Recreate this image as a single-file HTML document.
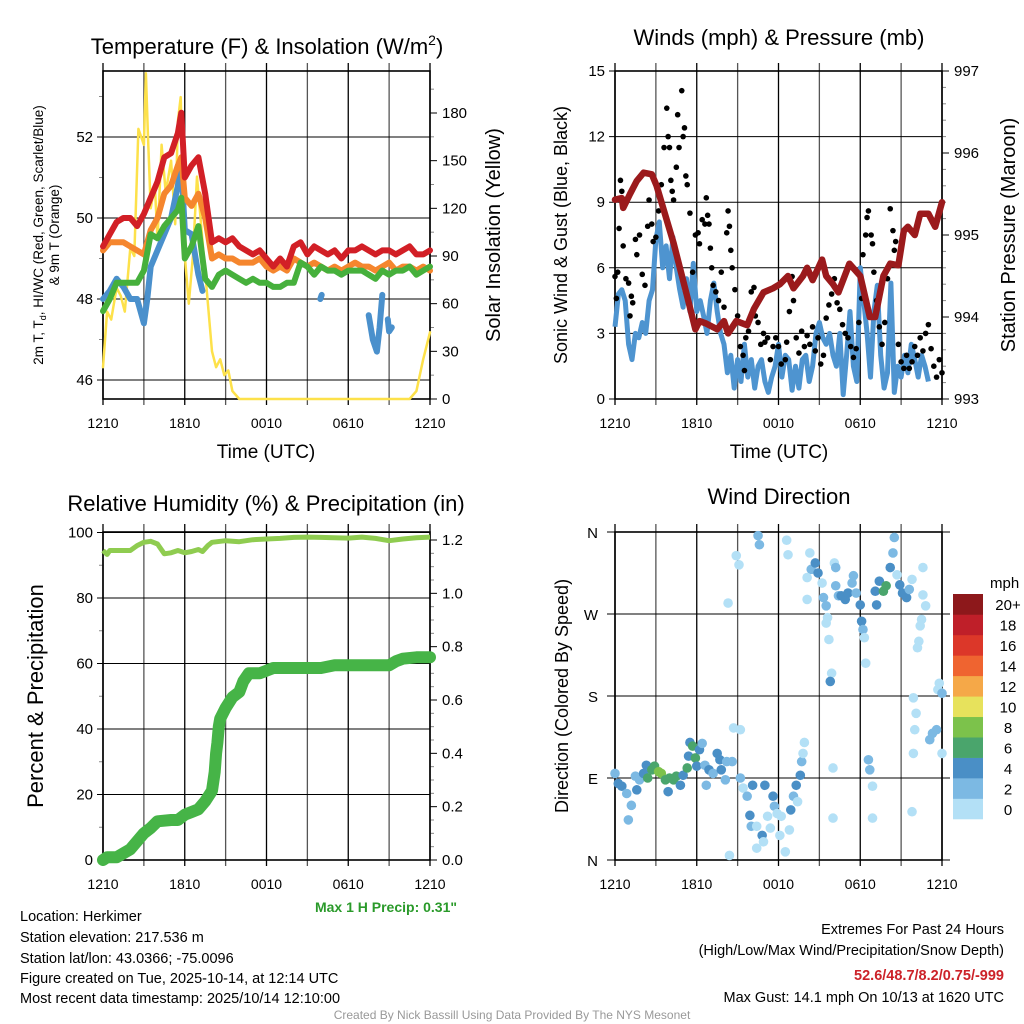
<!DOCTYPE html>
<html><head><meta charset="utf-8">
<style>
html,body{margin:0;padding:0;background:#fff;}
svg{display:block;font-family:"Liberation Sans",Arial,sans-serif;}
</style></head>
<body>
<svg id="fig" width="1024" height="1024" viewBox="0 0 1024 1024" xmlns="http://www.w3.org/2000/svg">
<rect width="1024" height="1024" fill="#fff"/>
<text x="267" y="54" font-size="22" text-anchor="middle">Temperature (F) &amp; Insolation (W/m<tspan dy="-9" font-size="14">2</tspan><tspan dy="9">)</tspan></text>
<text x="779" y="45" font-size="22" text-anchor="middle">Winds (mph) &amp; Pressure (mb)</text>
<text x="266" y="511" font-size="22" text-anchor="middle">Relative Humidity (%) &amp; Precipitation (in)</text>
<text x="779" y="504" font-size="22" text-anchor="middle">Wind Direction</text>

<text transform="translate(43,235) rotate(-90)" font-size="13.5" text-anchor="middle">2m T, T<tspan dy="3" font-size="9">d</tspan><tspan dy="-3">, HI/WC (Red, Green, Scarlet/Blue)</tspan></text>
<text transform="translate(59,235) rotate(-90)" font-size="13.5" text-anchor="middle">&amp; 9m T (Orange)</text>
<text transform="translate(500,235) rotate(-90)" font-size="20" text-anchor="middle">Solar Insolation (Yellow)</text>
<text transform="translate(567,235) rotate(-90)" font-size="18" text-anchor="middle">Sonic Wind &amp; Gust (Blue, Black)</text>
<text transform="translate(1015,235) rotate(-90)" font-size="20" text-anchor="middle">Station Pressure (Maroon)</text>
<text transform="translate(43,696) rotate(-90)" font-size="22" text-anchor="middle">Percent &amp; Precipitation</text>
<text transform="translate(568,696) rotate(-90)" font-size="18" text-anchor="middle">Direction (Colored By Speed)</text>
<text x="266" y="458" font-size="19" text-anchor="middle">Time (UTC)</text>
<text x="779" y="458" font-size="19" text-anchor="middle">Time (UTC)</text>

<text x="386" y="912" font-size="14" font-weight="bold" fill="#2a9a2a" text-anchor="middle">Max 1 H Precip: 0.31"</text>
<g font-size="14.5">
<text x="20" y="921">Location: Herkimer</text>
<text x="20" y="942">Station elevation: 217.536 m</text>
<text x="20" y="963">Station lat/lon: 43.0366; -75.0096</text>
<text x="20" y="983">Figure created on Tue, 2025-10-14, at 12:14 UTC</text>
<text x="20" y="1003">Most recent data timestamp: 2025/10/14 12:10:00</text>
</g>
<g font-size="14.5" text-anchor="end">
<text x="1004" y="934">Extremes For Past 24 Hours</text>
<text x="1004" y="955">(High/Low/Max Wind/Precipitation/Snow Depth)</text>
<text x="1004" y="980" fill="#cc2229" font-weight="bold">52.6/48.7/8.2/0.75/-999</text>
<text x="1004" y="1002">Max Gust: 14.1 mph On 10/13 at 1620 UTC</text>
</g>
<text x="512" y="1019" font-size="12" fill="#999" text-anchor="middle">Created By Nick Bassill Using Data Provided By The NYS Mesonet</text>
<g id="plots"></g>
</svg>
<script>
// ---------- data ----------
const timeLabels = ["1210","1810","0010","0610","1210"];
const tempHours = [0,0.5,1,1.5,2,2.5,3,3.5,4,4.5,5,5.5,5.75,6,6.5,7,7.5,8,8.5,9,9.5,10,10.5,11,11.5,12,12.5,13,13.5,14,14.5,15,15.5,16,16.5,17,17.5,18,18.5,19,19.5,20,20.5,21,21.5,22,22.5,23,23.5,24];
const tempRed = [49.3,49.6,49.9,50.0,50.0,49.8,50.1,50.5,50.9,51.5,51.6,52.1,52.6,51.0,51.3,51.5,50.6,49.4,49.5,49.4,49.5,49.3,49.2,49.1,49.2,49.0,48.8,49.0,48.8,49.3,49.4,49.1,49.3,49.2,49.1,49.2,49.0,49.2,49.2,49.3,49.2,49.1,49.2,49.2,49.1,49.2,49.3,49.1,49.1,49.2];
const temp9m = [49.2,49.4,49.4,49.4,49.3,49.2,49.1,49.7,50.0,50.6,50.8,51.3,51.5,50.5,50.3,50.6,50.0,49.0,49.1,49.0,49.0,48.9,48.9,48.9,49.0,48.8,48.7,48.8,48.7,49.0,48.9,48.8,48.9,48.8,48.7,48.8,48.7,48.8,48.9,48.8,48.8,48.7,48.8,48.9,48.7,48.8,48.8,48.7,48.8,48.7];
const tempGreen = [47.7,48.0,48.4,48.4,48.4,48.4,48.7,49.6,49.5,49.8,50.0,50.2,50.5,49.0,49.3,49.8,48.5,48.3,48.6,48.7,48.6,48.5,48.4,48.5,48.4,48.4,48.3,48.3,48.4,48.4,48.9,48.8,48.6,48.8,48.7,48.7,48.6,48.7,48.7,48.7,48.6,48.5,48.7,48.6,48.7,48.7,48.8,48.6,48.7,48.8];
const dewHours = [0,0.5,1,1.5,2,2.5,3,3.25,3.5,4,4.5,5,5.5,5.75,6,6.5,7,7.3,null,15.95,16.05,null,19.5,19.8,20.1,20.3,20.5,null,20.9,21.0,21.2];
const dewBlue = [48.0,48.2,48.5,48.3,48.0,48.0,47.4,48.0,48.8,49.2,49.6,50.0,50.8,51.3,49.7,49.6,48.6,48.2,null,48.0,48.1,null,47.6,47.0,46.7,47.3,48.1,null,47.5,47.2,47.3];
const solarHours = [0,0.3,0.6,1,1.3,1.6,2,2.3,2.6,3,3.15,3.3,3.5,3.8,4,4.3,4.6,5,5.3,5.5,5.7,6,6.3,6.6,6.9,7.1,7.4,7.7,8,8.3,8.6,8.9,9.2,9.5,10,11,13,15,17,19,21,22.5,23,23.5,24];
const solarVals = [20,55,50,70,65,55,95,90,170,160,205,165,120,135,100,160,130,150,110,175,190,90,60,90,140,120,90,60,30,20,25,15,18,5,0,0,0,0,0,0,0,0,5,25,42];

const windHours = [0,0.25,0.5,0.75,1,1.25,1.5,1.75,2,2.25,2.5,2.75,3,3.25,3.5,3.75,4,4.25,4.5,4.75,5,5.25,5.5,5.75,6,6.25,6.5,6.75,7,7.25,7.5,7.75,8,8.25,8.5,8.75,9,9.25,9.5,9.75,10,10.25,10.5,10.75,11,11.25,11.5,11.75,12,12.25,12.5,12.75,13,13.25,13.5,13.75,14,14.25,14.5,14.75,15,15.25,15.5,15.75,16,16.25,16.5,16.75,17,17.25,17.5,17.75,18,18.25,18.5,18.75,19,19.25,19.5,19.75,20,20.25,20.5,20.75,21,21.25,21.5,21.75,22,22.25,22.5,22.75,23,23.25,23.5,23.75,24];
const windBlue = [3.3,4.8,5.0,4.5,2.5,1.8,3.0,2.8,3.5,3.0,4.5,5.0,7.3,8.1,6.0,7.0,5.5,7.4,6.0,5.0,4.2,5.5,4.0,6.2,4.0,4.5,3.8,3.0,4.5,5.3,4.0,3.0,2.5,1.2,2.0,0.5,1.8,0.8,2.5,1.0,1.8,0.5,1.5,1.8,0.8,0.3,1.0,1.5,2.5,1.0,2.0,1.8,0.4,1.5,0.5,1.8,2.0,0.8,1.5,3.0,3.5,2.8,2.5,3.0,2.0,1.5,3.0,0.2,2.0,4.0,1.5,0.8,6.0,4.5,3.0,1.0,4.0,5.2,2.0,0.5,1.2,5.3,0.3,1.5,1.0,2.0,1.2,2.5,1.8,1.0,2.0,1.5,0.8];
const gustHours = [0,0.1,0.2,0.3,0.4,0.5,0.6,0.8,1.0,1.1,1.2,1.3,1.5,1.6,1.8,2.0,2.2,2.4,2.5,2.7,2.8,3.0,3.2,3.4,3.6,3.8,3.9,4.0,4.1,4.2,4.3,4.5,4.6,4.7,4.9,5.0,5.1,5.2,5.3,5.5,5.7,5.9,6.1,6.2,6.4,6.6,6.7,6.8,6.9,7.0,7.1,7.2,7.4,7.6,7.8,8.0,8.2,8.3,8.4,8.5,8.6,8.8,9.0,9.2,9.4,9.5,9.6,9.8,10.0,10.2,10.3,10.5,10.7,10.9,11.0,11.2,11.4,11.6,11.8,12.0,12.2,12.5,12.6,12.8,13.0,13.1,13.3,13.5,13.7,13.9,14.1,14.3,14.5,14.7,14.9,15.1,15.3,15.5,15.7,15.9,16.1,16.3,16.5,16.7,16.9,17.1,17.3,17.5,17.7,17.9,18.1,18.2,18.4,18.5,18.6,18.8,18.9,19.0,19.2,19.4,19.6,19.8,20.0,20.2,20.4,20.5,20.6,20.8,21.0,21.2,21.4,21.6,21.8,22.0,22.2,22.4,22.6,22.8,23.0,23.2,23.4,23.6,23.8,24.0];
const gustVals = [5.6,4.6,5.8,7.8,10.0,9.5,7.0,5.5,5.3,3.8,4.7,4.4,7.3,6.6,7.5,5.7,5.2,7.9,9.1,8.0,7.2,7.4,8.6,9.8,11.5,13.3,12.0,11.5,10.0,9.5,9.1,10.6,13.0,11.5,14.1,12.0,12.4,10.2,9.8,8.5,5.8,7.5,7.6,7.1,8.2,8.0,9.2,8.4,8.0,6.9,6.0,5.2,4.9,4.5,5.8,4.2,7.6,8.6,7.9,6.8,6.0,5.0,3.8,2.4,2.0,1.3,2.8,3.1,4.9,5.1,3.8,3.5,2.5,3.0,2.6,2.8,1.8,2.4,2.8,2.4,1.6,1.8,2.6,4.0,5.6,4.5,2.8,2.1,3.1,2.4,2.9,2.5,3.3,2.2,2.8,1.6,2.0,3.7,4.3,4.8,5.5,4.4,4.1,3.4,3.0,2.8,2.4,1.9,2.3,3.5,4.6,6.6,7.5,8.3,8.6,7.5,7.1,5.8,4.5,3.3,2.5,3.5,5.5,8.7,7.7,6.8,7.2,2.5,1.7,1.4,2.0,1.4,1.7,2.4,2.0,2.8,2.2,3.0,3.4,2.3,1.5,1.0,1.8,1.2];
const presHours = [0,0.5,0.6,1.1,1.6,2.1,2.7,3.05,4.3,5.3,5.9,6.2,6.7,7.5,8,8.3,8.9,9.7,10.2,10.9,11.6,12.1,12.7,13.1,13.8,14.1,14.5,15.2,15.5,16,16.4,17.2,18,18.7,19.1,19.7,20.2,20.8,21.2,21.5,22,22.4,23,23.5,24];
const presVals = [995.43,995.45,995.33,995.5,995.66,995.76,995.74,995.6,994.9,994.25,993.85,993.95,993.92,993.85,993.95,993.8,993.95,993.9,994.1,994.3,994.35,994.4,994.5,994.35,994.5,994.6,994.45,994.7,994.5,994.4,994.3,994.65,994.5,994.0,994.0,994.5,994.65,994.63,995.05,995.1,995.0,995.26,995.26,995.1,995.4];

const rhHours = [0,0.3,0.5,1,2,2.5,3,3.5,4,4.5,5,5.5,6,6.5,7,7.3,7.7,8,9,10,11,12,13,14,15,16,17,18,19,20,21,22,23,24];
const rhVals = [94.5,93.3,94.5,94.5,94.5,96,97,97.3,96.5,93.5,93.8,94.5,93.8,94.2,94.8,94.2,96,97,97.5,97.2,97.8,98,98.2,98.5,98.6,98.5,98.4,98.3,98.6,98.2,97.5,98,98.4,98.6];
const precipHours = [0,0.3,1,1.5,2,2.5,3,3.5,4,5,5.5,6,6.5,7,7.5,8,8.2,8.3,8.4,8.5,8.6,9,9.5,10,10.3,10.7,11,11.5,12,12.5,13,14,15,16,17,18,19,20,21,21.5,22,23,24];
const precipVals = [0,0.01,0.01,0.025,0.04,0.07,0.1,0.12,0.145,0.15,0.15,0.17,0.18,0.19,0.22,0.26,0.33,0.4,0.44,0.5,0.53,0.57,0.61,0.63,0.67,0.70,0.70,0.70,0.71,0.72,0.72,0.72,0.72,0.72,0.73,0.73,0.73,0.73,0.73,0.745,0.755,0.76,0.76];

const dirHours = [0,0.24,0.5,0.86,0.98,1.2,1.5,1.6,1.8,2.1,2.3,2.4,2.7,2.9,3.2,3.4,3.7,3.9,4.0,4.3,4.5,4.8,5.0,5.3,5.4,5.5,5.7,5.9,6.0,6.2,6.4,6.6,6.7,6.9,7.2,7.5,7.7,7.8,8.1,8.2,8.6,8.7,9.2,8.9,9.1,8.3,9.2,9.4,9.7,9.9,10.1,10.0,10.4,10.8,10.9,10.4,11.0,11.2,11.4,11.6,11.7,11.9,12.1,12.2,12.5,12.8,12.9,13.1,13.3,13.4,13.6,13.7,13.8,13.9,8.4,10.5,10.6,12.6,12.7,14.3,14.4,14.7,14.9,14.1,14.1,15.2,15.3,15.5,15.6,15.5,15.7,15.9,15.8,16.1,16.2,16.2,16.4,16.6,16.9,17.1,17.4,17.5,17.7,18.0,18.1,18.2,18.3,18.4,18.6,18.7,18.9,18.9,19.1,19.2,19.4,19.7,19.9,20.2,20.4,20.5,20.7,20.9,21.1,21.4,21.6,21.8,22.6,22.6,22.8,22.5,22.4,22.3,22.2,21.9,22.1,22.0,21.9,21.8,23.1,23.3,23.6,23.7,23.8,24,24,16.0,16.0];
const dirDeg = [95,84,81,73,44,60,92,77,88,95,104,90,99,103,97,95,88,75,90,88,92,82,93,101,114,129,125,112,103,121,128,104,82,99,95,117,110,99,88,108,108,145,143,334,324,282,90,79,70,49,82,37,37,27,20,13,82,48,35,70,59,51,27,48,9,33,55,70,82,64,93,108,117,129,5,356,346,351,335,337,319,326,315,310,286,304,288,279,266,260,242,205,196,326,321,301,290,290,286,293,304,312,293,280,262,253,244,216,110,99,81,46,295,280,306,295,301,321,337,354,313,302,293,288,297,308,321,291,279,264,257,240,233,178,161,143,117,53,132,139,143,187,194,183,117,101,46];
const dirSpeed = [2,4,4,2,2,2,2,4,2,4,4,6,6,6,8,8,6,4,6,6,6,4,4,6,4,4,6,6,4,4,2,2,2,4,2,4,4,4,2,2,2,0,0,0,0,0,2,0,2,4,4,2,0,4,0,0,4,0,0,4,2,0,0,0,0,0,4,2,4,0,4,2,0,0,0,2,2,0,0,0,2,4,4,0,0,0,2,2,0,0,0,0,4,0,2,2,2,4,4,4,2,2,2,4,4,2,0,0,2,2,0,0,4,4,4,6,6,4,2,2,0,4,4,4,2,0,0,0,0,0,0,0,0,0,0,0,0,0,2,2,2,0,0,2,0,0,0];
const speedBins = ["0","2","4","6","8","10","12","14","16","18","20+"];
const speedColors = ["#b3e0f6","#7cb9e3","#4a8fc6","#4aa56c","#7cc24b","#e7e25c","#f5a848","#ef6430","#dc3729","#bf1f29","#8d181b"];

// ---------- helpers ----------
const NS="http://www.w3.org/2000/svg";
const root=document.getElementById('plots');
function mk(tag,attrs,parent){const e=document.createElementNS(NS,tag);for(const k in attrs)e.setAttribute(k,attrs[k]);(parent||root).appendChild(e);return e;}
function lin(d0,d1,r0,r1){return v=>r0+(v-d0)*(r1-r0)/(d1-d0);}
function pathFrom(xs,ys,fx,fy){let d="",pen=false;for(let i=0;i<xs.length;i++){if(xs[i]===null||ys[i]===null){pen=false;continue;}d+=(pen?"L":"M")+fx(xs[i]).toFixed(1)+","+fy(ys[i]).toFixed(1);pen=true;}return d;}

function frame(name,x0,y0,x1,y1){
  const g=mk('g',{});
  
  
  const fx=lin(0,24,x0,x1);
  for(let h=0;h<=24;h+=3){
    const x=fx(h);
    const ln=mk('line',{x1:x,x2:x,y1:y0-8,y2:y1+6,stroke:(h%6==0)?'#000':'#555','stroke-width':1.3},g);
    
    
  }
  for(let i=0;i<timeLabels.length;i++){
    const t=mk('text',{x:fx(i*6),y:y1+29,'font-size':14,'text-anchor':'middle'},g);
    t.textContent=timeLabels[i];
    
    
  }
  return {g,fx};
}
function hgrid(g,y,x0,x1){mk('line',{x1:x0,x2:x1,y1:y,y2:y,stroke:'#000','stroke-width':1},g);}
function leftTicks(g,vals,fy,x0,x1,fs,fmt){for(const v of vals){const y=fy(v);hgrid(g,y,x0-6,x1);const t=mk('text',{x:x0-10,y:y+5,'font-size':fs,'text-anchor':'end'},g);t.textContent=fmt?fmt(v):v;}}
function rightTicks(g,vals,fy,x1,fs,fmt,minor){for(const v of vals){const y=fy(v);mk('line',{x1:x1,x2:x1+7,y1:y,y2:y,stroke:'#000'},g);const t=mk('text',{x:x1+12,y:y+5,'font-size':fs},g);t.textContent=fmt?fmt(v):v;}
 if(minor)for(const v of minor){const y=fy(v);mk('line',{x1:x1,x2:x1+4,y1:y,y2:y,stroke:'#888'},g);}}
function box(g,x0,y0,x1,y1){mk('rect',{x:x0,y:y0,width:x1-x0,height:y1-y0,fill:'none',stroke:'#000','stroke-width':1.6},g);}

// ---------- panel 1: temperature ----------
(function(){
 const X0=103,X1=430,Y0=71,Y1=399;
 const {g,fx}=frame('temp',X0,Y0,X1,Y1);
 const fy=lin(46,52,380,137), fs=lin(0,180,399,113);
 leftTicks(g,[46,48,50,52],fy,X0,X1,15);
 rightTicks(g,[0,30,60,90,120,150,180],fs,X1,15,null,[15,45,75,105,135,165,195]);
 for(const v of [47,49,51,53]) mk('line',{x1:X0-4,x2:X0,y1:fy(v),y2:fy(v),stroke:'#888'},g);
 const series=[[solarHours,solarVals,fs,'#fde14a',2.5,'solar-insolation-line'],[dewHours,dewBlue,fy,'#4a90cc',6,'dewpoint-line'],[tempHours,temp9m,fy,'#f5862e',6,'temp-9m-line'],[tempHours,tempGreen,fy,'#46b03c',6,'heat-index-line'],[tempHours,tempRed,fy,'#d21f26',6,'temp-2m-line']];
 for(const s of series){
   const p=mk('path',{d:pathFrom(s[0],s[1],fx,s[2]),fill:'none',stroke:s[3],'stroke-width':s[4],'stroke-linejoin':'round','stroke-linecap':'round'});
   
   
 }
 box(g,X0,Y0,X1,Y1);
})();

// ---------- panel 2: winds ----------
(function(){
 const X0=615,X1=942,Y0=71,Y1=399;
 const {g,fx}=frame('wind',X0,Y0,X1,Y1);
 const fy=lin(0,15,399,71), fp=lin(993,997,399,71);
 leftTicks(g,[0,3,6,9,12,15],fy,X0,X1,15);
 rightTicks(g,[993,994,995,996,997],fp,X1,15,null,[993.2,993.4,993.6,993.8,994.2,994.4,994.6,994.8,995.2,995.4,995.6,995.8,996.2,996.4,996.6,996.8]);
 const wb=mk('path',{d:pathFrom(windHours,windBlue,fx,fy),fill:'none',stroke:'#4e94d0','stroke-width':5,'stroke-linejoin':'round'});
 
 
 for(let i=0;i<gustHours.length;i++){
   const c=mk('circle',{cx:fx(gustHours[i]),cy:fy(gustVals[i]),r:2.8,fill:'#000'});
   
   
 }
 const pp=mk('path',{d:pathFrom(presHours,presVals,fx,fp),fill:'none',stroke:'#9b1a1c','stroke-width':6.5,'stroke-linejoin':'round','stroke-linecap':'round'});
 
 
 box(g,X0,Y0,X1,Y1);
})();

// ---------- panel 3: RH & precip ----------
(function(){
 const X0=103,X1=430,Y0=532,Y1=860;
 const {g,fx}=frame('rh',X0,Y0,X1,Y1);
 const fy=lin(0,100,860,532.5), fp=lin(0,1.2,860,540);
 leftTicks(g,[0,20,40,60,80,100],fy,X0,X1,15);
 for(const v of [10,30,50,70,90]) mk('line',{x1:X0-4,x2:X0,y1:fy(v),y2:fy(v),stroke:'#888'},g);
 rightTicks(g,[0,0.2,0.4,0.6,0.8,1.0,1.2],fp,X1,15,v=>v.toFixed(1),[0.05,0.1,0.15,0.25,0.3,0.35,0.45,0.5,0.55,0.65,0.7,0.75,0.85,0.9,0.95,1.05,1.1,1.15]);
 const r=mk('path',{d:pathFrom(rhHours,rhVals,fx,fy),fill:'none',stroke:'#8fcc50','stroke-width':5,'stroke-linejoin':'round'});
 
 
 const p=mk('path',{d:pathFrom(precipHours,precipVals,fx,fp),fill:'none',stroke:'#46b447','stroke-width':12,'stroke-linejoin':'round','stroke-linecap':'round'});
 
 
 box(g,X0,Y0,X1,Y1);
})();

// ---------- panel 4: wind direction ----------
(function(){
 const X0=615,X1=942,Y0=532,Y1=860;
 const {g,fx}=frame('wdir',X0,Y0,X1,Y1);
 const fy=lin(0,360,860,532);
 const labs=["N","E","S","W","N"];
 for(let i=0;i<5;i++){const y=fy(i*90);hgrid(g,y,X0-8,X1+8);const t=mk('text',{x:X0-17,y:y+6,'font-size':15,'text-anchor':'end'},g);t.textContent=labs[i];}
 const bin=s=>Math.min(10,Math.floor(s/2));
 for(let i=0;i<dirHours.length;i++){
   const c=mk('circle',{cx:fx(dirHours[i]),cy:fy(dirDeg[i]),r:4.8,fill:speedColors[bin(dirSpeed[i])]});
   
   
 }
 box(g,X0,Y0,X1,Y1);
 const lg=mk('g',{});
 
 
 const t=mk('text',{x:990,y:588,'font-size':15},lg);t.textContent='mph';
 const by=lin(0,11,819,594);
 for(let i=0;i<11;i++){
   const rc=mk('rect',{x:953,y:by(i+1),width:30,height:by(i)-by(i+1)+0.3,fill:speedColors[i]},lg);
   
   
   const tl=mk('text',{x:1008,y:(by(i)+by(i+1))/2+6,'font-size':15,'text-anchor':'middle'},lg);
   tl.textContent=speedBins[i];
 }
})();
</script>
</body></html>
